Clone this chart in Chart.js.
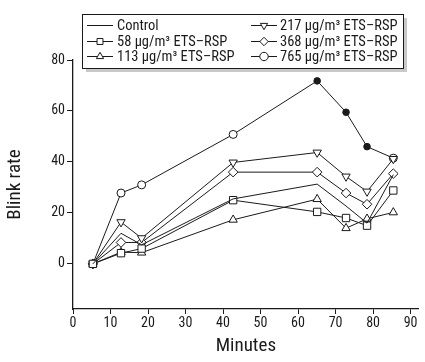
<!DOCTYPE html>
<html>
<head>
<meta charset="utf-8">
<script src="https://cdn.jsdelivr.net/npm/chart.js@4.4.1/dist/chart.umd.min.js"></script>
<style>
  html, body { margin: 0; padding: 0; background: #fff; }
  #wrap { width: 425px; height: 362px; }
</style>
</head>
<body>
<div id="wrap"><canvas id="chart" width="425" height="362"></canvas></div>
<script>
// 数据：眨眼率（次/分）与时间点
var minutes = [5.3, 12.8, 18.3, 42.7, 65.1, 72.8, 78.4, 85.4];
var control = [0, 12, 7.5, 25.5, 31.3, 22.7, 16, 35];
var ets58 = [0, 4.2, 6, 25, 20.4, 18, 15, 28.8];
var ets113 = [0, 4.6, 4.4, 17.3, 25.4, 14, 17.7, 20.2];
var ets217 = [0, 16.4, 10.1, 39.8, 43.7, 34.3, 28.4, 41.2];
var ets368 = [0, 8.4, 8.4, 36, 36, 27.8, 23.4, 35.4];
var ets765 = [0, 27.8, 31, 50.8, 71.8, 59.5, 46, 41.5];
var filled765 = [false, false, false, false, true, true, true, false];
var xTicks = [0, 10, 20, 30, 40, 50, 60, 70, 80, 90];
var yTicks = [0, 20, 40, 60, 80];

var INK = "#1a1a1a";
var FONT = "'Liberation Sans Narrow','Roboto Condensed','Liberation Sans',Arial,sans-serif";

function pts(ys) {
  return ys.map(function (y, i) { return { x: minutes[i], y: y }; });
}

function series(label, ys, style, rot, radius) {
  return {
    label: label,
    data: pts(ys),
    borderColor: INK,
    borderWidth: 1,
    pointStyle: style,
    rotation: rot || 0,
    pointRadius: style ? radius : 0,
    pointBorderWidth: 1,
    pointBorderColor: INK,
    pointBackgroundColor: "#fff",
    tension: 0
  };
}

var sets = [
  series("Control", control, false),
  series("58 µg/m³ ETS–RSP", ets58, "rect", 0, 5.2),
  series("113 µg/m³ ETS–RSP", ets113, "triangle", 0, 4.8),
  series("217 µg/m³ ETS–RSP", ets217, "triangle", 180, 4.8),
  series("368 µg/m³ ETS–RSP", ets368, "rectRot", 0, 4.8),
  series("765 µg/m³ ETS–RSP", ets765, "circle", 0, 4)
];
sets[5].pointBackgroundColor = filled765.map(function (f) { return f ? INK : "#fff"; });
sets[5].pointRadius = filled765.map(function (f) { return f ? 3.3 : 4; });

// 图例：双栏带阴影方框，手绘
var boxLegend = {
  id: "boxLegend",
  afterDraw: function (chart) {
    var ctx = chart.ctx;
    var L = 82, T = 14, W = 321, H = 54;
    ctx.save();
    ctx.fillStyle = "#c9c9c9";
    ctx.fillRect(L + 4, T + 4, W, H);
    ctx.fillStyle = "#fff";
    ctx.fillRect(L, T, W, H);
    ctx.strokeStyle = INK;
    ctx.lineWidth = 1;
    ctx.strokeRect(L + 0.5, T + 0.5, W, H);
    var cols = [{ x0: 87, x1: 113, tx: 117 }, { x0: 251, x1: 277, tx: 280 }];
    var rows = [25, 41, 56];
    ctx.font = "14.5px " + FONT;
    ctx.textBaseline = "middle";
    chart.data.datasets.forEach(function (ds, i) {
      var c = cols[Math.floor(i / 3)], y = rows[i % 3];
      ctx.strokeStyle = INK;
      ctx.beginPath();
      ctx.moveTo(c.x0, y + 0.5);
      ctx.lineTo(c.x1, y + 0.5);
      ctx.stroke();
      if (ds.pointStyle) {
        ctx.fillStyle = "#fff";
        Chart.helpers.drawPoint(ctx, {
          pointStyle: ds.pointStyle, rotation: ds.rotation,
          radius: 4.2, borderWidth: 1
        }, (c.x0 + c.x1) / 2, y + 0.5);
      }
      ctx.fillStyle = INK;
      ctx.fillText(ds.label, c.tx, y + 1);
    });
    ctx.restore();
  }
};

new Chart(document.getElementById("chart"), {
  type: "line",
  data: { datasets: sets },
  plugins: [boxLegend],
  options: {
    responsive: false,
    animation: false,
    layout: { padding: { top: 60, right: 1, left: 0, bottom: 0 } },
    plugins: { legend: { display: false }, tooltip: { enabled: false } },
    scales: {
      x: {
        type: "linear", min: 0, max: 92.2,
        afterBuildTicks: function (s) { s.ticks = xTicks.map(function (v) { return { value: v }; }); },
        afterFit: function (s) { s.height = 53; },
        grid: { drawOnChartArea: false, color: INK, tickLength: 5, tickColor: INK },
        border: { color: INK, width: 1.3 },
        ticks: { color: INK, font: { family: FONT, size: 14 }, padding: 1, maxRotation: 0 },
        title: { display: true, text: "Minutes", color: INK, font: { family: FONT, size: 19 }, padding: { top: 4 } }
      },
      y: {
        type: "linear", min: -17.7, max: 80,
        afterBuildTicks: function (s) { s.ticks = yTicks.map(function (v) { return { value: v }; }); },
        afterFit: function (s) { s.width = 73; },
        grid: { drawOnChartArea: false, color: INK, tickLength: 6, tickColor: INK },
        border: { color: INK, width: 1.3 },
        ticks: { color: INK, font: { family: FONT, size: 14 }, padding: 2 },
        title: { display: true, text: "Blink rate", color: INK, font: { family: FONT, size: 19 }, padding: { bottom: 10 } }
      }
    }
  }
});
</script>
</body>
</html>
